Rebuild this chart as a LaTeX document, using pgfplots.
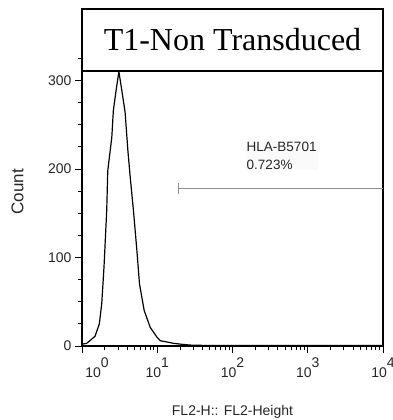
\documentclass[border=0pt]{standalone}
\usepackage{pgfplots}
\pgfplotsset{compat=1.18}
\usepackage{fontspec}
\setmainfont{Liberation Sans}
\newfontfamily\titlefont{Liberation Serif}
\usetikzlibrary{arrows.meta}
\begin{document}
\begin{tikzpicture}
\begin{axis}[
  at={(0,0)}, anchor=south west,
  scale only axis, width=301pt, height=337.2pt,
  xmode=log, xmin=1, xmax=10000,
  ymin=0, ymax=381,
  axis line style={line width=1.4pt},
  tick align=outside, tick pos=left,
  xtick={1,10,100,1000,10000},
  xticklabels={\hspace*{30pt}10\raisebox{10pt}{0},10\raisebox{10pt}{1},10\raisebox{10pt}{2},10\raisebox{10pt}{3},10\raisebox{10pt}{4}},
  ytick={0,100,200,300},
  minor ytick={25,50,75,125,150,175,225,250,275,325},
  major tick length=7pt, minor tick length=4pt,
  every tick/.style={black, line width=0.8pt},
  tick label style={font=\fontsize{14}{14}\selectfont, text=black!85},
  xticklabel style={anchor=base, yshift=-24pt},
  /pgf/number format/assume math mode=true,
  xlabel={FL2-H:: FL2-Height}, ylabel={Count},
  x label style={font=\fontsize{14}{14}\selectfont, text=black!85, at={(axis description cs:0.5,-0.196)}, anchor=center},
  y label style={font=\fontsize{17}{17}\selectfont, text=black!85, at={(axis description cs:-0.214,0.457)}, anchor=center},
  clip=false,
]
\addplot[black, line width=1.2pt] coordinates {
(1,2) (1.155,3) (1.49,11) (1.70,25) (1.83,48) (1.96,89) (2.13,153) (2.20,198)
(2.49,236) (2.61,266) (2.84,289) (3.09,310) (3.38,289) (3.74,264) (4.07,221)
(4.37,191) (4.83,153) (5.36,108) (5.81,70) (6.71,40) (8.07,21) (9.91,10)
(10.96,6) (16.5,3) (22.4,1.7) (30,0.8) (100,0.5) (10000,0.5)
};
\addplot[gray!90, line width=0.9pt, arrows={Bar[width=11pt]-}] coordinates {(19,178) (10000,178)};
\node[anchor=west, align=left, font=\fontsize{13.5}{18}\selectfont, text=black!85, fill=gray!4, inner sep=1pt] at (axis cs:149,215) {HLA-B5701\\0.723\%};
\draw[line width=1.6pt, fill=white] (rel axis cs:0,0.8155) rectangle (rel axis cs:1,1);
\node at (rel axis cs:0.5,0.9075) {\titlefont\fontsize{32}{32}\selectfont T1-Non Transduced};
\end{axis}
\pgfresetboundingbox
\useasboundingbox (-82pt,-74pt) rectangle (311pt,346pt);
\end{tikzpicture}
\end{document}
